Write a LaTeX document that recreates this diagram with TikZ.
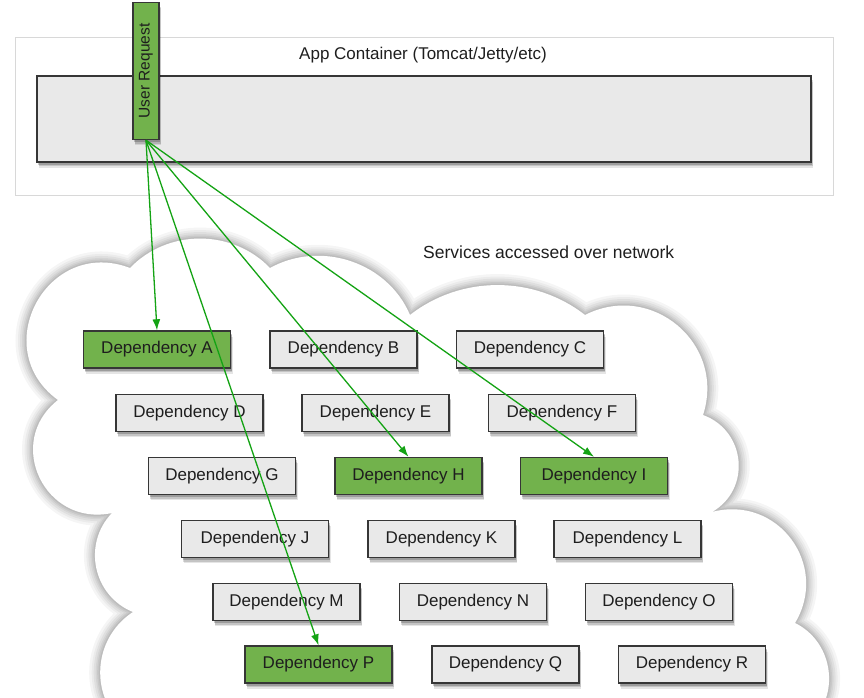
\documentclass[tikz,border=0pt]{standalone}
\usepackage{fontspec}
\setmainfont{Liberation Sans}
\usetikzlibrary{arrows.meta}
\definecolor{boxgray}{HTML}{E9E9E9}
\definecolor{boxgreen}{HTML}{72B24C}
\definecolor{edgegray}{HTML}{363636}
\definecolor{arrowgreen}{HTML}{14A314}
\definecolor{framegray}{HTML}{D8D8D8}
\definecolor{txt}{HTML}{1E1E1E}
\tikzset{
  softshadow/.style={
    preaction={fill=black, opacity=0.10, transform canvas={xshift=2pt,yshift=-5.5pt}},
    preaction={fill=black, opacity=0.14, transform canvas={xshift=1.5pt,yshift=-4pt}},
    preaction={fill=black, opacity=0.2, transform canvas={xshift=1pt,yshift=-2.5pt}}},
  depbox/.style={softshadow, draw=edgegray, line width=1.4pt, fill=boxgray, minimum width=147pt, minimum height=37pt,
    inner sep=0pt, font=\fontsize{17}{20}\selectfont, text=txt},
  depgreen/.style={depbox, fill=boxgreen},
  reqarrow/.style={draw=arrowgreen, line width=1.3pt, -{Latex[length=11pt,width=8pt]}},
  lbl/.style={font=\fontsize{17.5}{20}\selectfont, text=txt, inner sep=0pt}
}
\begin{document}
\begin{tikzpicture}[x=1pt,y=1pt]
\useasboundingbox (0,0) rectangle (864,-697);
\begin{scope}
\clip (0,0) rectangle (864,-697);
% outer container
\node[draw=framegray, line width=1pt, minimum width=818pt, minimum height=158pt, inner sep=0pt] (container) at (424,-116) {};
\node[lbl, font=\fontsize{17}{20}\selectfont] (ctitle) at (423,-55) {App Container (Tomcat/Jetty/etc)};
\node[softshadow, draw=edgegray, line width=1.4pt, fill=boxgray, minimum width=774pt, minimum height=86pt, inner sep=0pt] (inner) at (424,-119) {};
% cloud
\def\cloudpath{(118,-720)
  to[out=131,in=213,looseness=1.03] (133,-612)
  to[out=158,in=226,looseness=1.09] (112,-513)
  to[out=192,in=218,looseness=1.4] (58,-400)
  to[out=144,in=159,looseness=1.5] (130,-268)
  to[out=46,in=134,looseness=1.0] (270,-268)
  to[out=29,in=113,looseness=1.0] (410,-315)
  to[out=38,in=142,looseness=0.95] (585,-315)
  to[out=27,in=72,looseness=1.24] (703,-415)
  to[out=-20,in=30,looseness=1.2] (712,-512)
  to[out=15,in=59,looseness=1.25] (795,-623)
  to[out=-26,in=47,looseness=1.05] (813,-720)
  -- cycle}
\foreach \w/\o in {22/0.04,17/0.04,13/0.05,9/0.05,6/0.06,3/0.06}{
  \draw[black, opacity=\o, line width=\w pt, line join=round] \cloudpath;
}
\fill[white] \cloudpath;
\node[lbl, anchor=west] (svc) at (423,-252) {Services accessed over network};
% dependencies
\node[depgreen] (A) at (157,-349.5) {Dependency A};
\node[depbox] (B) at (343.5,-349.5) {Dependency B};
\node[depbox] (C) at (530,-349.5) {Dependency C};
\node[depbox] (D) at (189.5,-413) {Dependency D};
\node[depbox] (E) at (375.5,-413) {Dependency E};
\node[depbox] (F) at (562,-413) {Dependency F};
\node[depbox] (G) at (222,-476) {Dependency G};
\node[depgreen] (H) at (408.5,-476) {Dependency H};
\node[depgreen] (I) at (594,-476) {Dependency I};
\node[depbox] (J) at (255,-539) {Dependency J};
\node[depbox] (K) at (441.5,-539) {Dependency K};
\node[depbox] (L) at (627.5,-539) {Dependency L};
\node[depbox] (M) at (286.5,-602) {Dependency M};
\node[depbox] (N) at (473,-602) {Dependency N};
\node[depbox] (O) at (659,-602) {Dependency O};
\node[depgreen] (P) at (318.5,-664.5) {Dependency P};
\node[depbox] (Q) at (505.5,-664.5) {Dependency Q};
\node[depbox] (R) at (692,-664.5) {Dependency R};
% user request
\node[softshadow, draw=edgegray, line width=1.4pt, fill=boxgreen, minimum width=137pt, minimum height=26pt, inner sep=0pt,
  rotate=90, font=\fontsize{15.5}{18}\selectfont, text=txt] (req) at (146,-71) {User Request};
% arrows
\draw[reqarrow] (req.west) -- (A.north);
\draw[reqarrow] (req.west) -- (P.north);
\draw[reqarrow] (req.west) -- (H.north);
\draw[reqarrow] (req.west) -- (I.north);
\end{scope}
\end{tikzpicture}
\end{document}
